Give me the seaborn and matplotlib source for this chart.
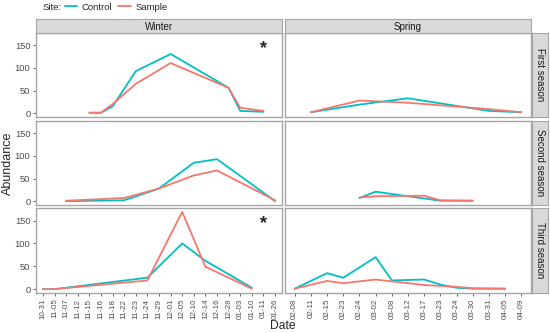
import pandas as pd
import numpy as np
import matplotlib
matplotlib.use("Agg")
import matplotlib.pyplot as plt
import seaborn as sns
from matplotlib.lines import Line2D

# tick labels for each column (discrete dates)
winter_dates = ['10-31', '11-05', '11-07', '11-12', '11-15', '11-16', '11-18', '11-22',
                '11-23', '11-24', '11-29', '12-01', '12-05', '12-10', '12-14', '12-16',
                '12-28', '01-03', '01-10', '01-11', '01-26']
spring_dates = ['02-08', '02-11', '02-15', '02-23', '02-24', '03-02', '03-08', '03-12',
                '03-17', '03-23', '03-24', '03-30', '03-31', '04-05', '04-09']

seasons = ['First season', 'Second season', 'Third season']
periods = ['Winter', 'Spring']

# First season
s1_winter_dates = ['11-15', '11-16', '11-18', '11-23', '12-01', '12-28', '01-03', '01-11']
s1_winter_control = [1, 1, 15, 93, 131, 56, 5, 3]
s1_winter_sample = [1, 1, 20, 65, 111, 56, 12, 5]
s1_spring_dates = ['02-11', '02-24', '03-12', '03-31', '04-09']
s1_spring_control = [2, 19, 33, 5, 2]
s1_spring_sample = [2, 28, 23, 9, 2]

# Second season
s2_winter_dates = ['11-07', '11-22', '11-29', '12-10', '12-16', '01-26']
s2_winter_control = [0, 2, 28, 85, 93, 0]
s2_winter_sample = [1, 7, 28, 57, 68, 2]
s2_spring_dates = ['02-24', '03-02', '03-17', '03-23', '03-30']
s2_spring_control = [7, 21, 6, 1, 1]
s2_spring_sample = [8, 11, 12, 2, 1]

# Third season
s3_winter_dates = ['10-31', '11-05', '11-24', '12-05', '12-14', '01-10']
s3_winter_control = [0, 0, 25, 100, 62, 3]
s3_winter_sample = [0, 0, 19, 169, 49, 1]
s3_spring_dates = ['02-08', '02-15', '02-23', '03-02', '03-08', '03-17', '03-23', '03-24', '03-30', '04-05']
s3_spring_control = [1, 35, 25, 70, 19, 21, 10, 3, 1, 1]
s3_spring_sample = [1, 18, 13, 21, 17, 9, 7, 5, 2, 1]

series = [
    ('First season', 'Winter', s1_winter_dates, s1_winter_control, s1_winter_sample),
    ('First season', 'Spring', s1_spring_dates, s1_spring_control, s1_spring_sample),
    ('Second season', 'Winter', s2_winter_dates, s2_winter_control, s2_winter_sample),
    ('Second season', 'Spring', s2_spring_dates, s2_spring_control, s2_spring_sample),
    ('Third season', 'Winter', s3_winter_dates, s3_winter_control, s3_winter_sample),
    ('Third season', 'Spring', s3_spring_dates, s3_spring_control, s3_spring_sample),
]

col_dates = {'Winter': winter_dates, 'Spring': spring_dates}

rows = []
for season, period, dates, ctrl, samp in series:
    for site, vals in (('Control', ctrl), ('Sample', samp)):
        for d, v in zip(dates, vals):
            rows.append({'Season': season, 'Period': period, 'Date': d,
                         'pos': col_dates[period].index(d), 'Site': site, 'Abundance': v})
df = pd.DataFrame(rows)

palette = {'Control': '#00BFC4', 'Sample': '#F8766D'}
border = '#A6A6A6'
tickcol = '#4D4D4D'

sns.set_style('white')
plt.rcParams['font.family'] = ['Liberation Sans', 'DejaVu Sans']

W, H = 550, 333
fig = plt.figure(figsize=(5.5, 3.33), dpi=100)

col_x = {'Winter': (36, 246), 'Spring': (285, 246)}
row_y = {'First season': (33, 117), 'Second season': (121, 205), 'Third season': (208, 293)}

ymax = df['Abundance'].max()
ylim = (-0.05 * ymax, 1.05 * ymax)

for season in seasons:
    for period in periods:
        x0, w = col_x[period]
        y0, y1 = row_y[season]
        ax = fig.add_axes([x0 / W, 1 - y1 / H, w / W, (y1 - y0) / H])
        sub = df[(df['Season'] == season) & (df['Period'] == period)]
        sns.lineplot(data=sub, x='pos', y='Abundance', hue='Site', hue_order=['Control', 'Sample'],
                     palette=palette, ax=ax, legend=False, linewidth=1.3, estimator=None, sort=False)
        n = len(col_dates[period])
        ax.set_xlim(-0.6, n - 1 + 0.6)
        ax.set_ylim(*ylim)
        ax.set_xlabel('')
        ax.set_ylabel('')
        for sp in ax.spines.values():
            sp.set_color(border)
            sp.set_linewidth(1.0)
        ax.set_xticks(range(n))
        if season == 'Third season':
            ax.set_xticklabels(col_dates[period], rotation=90, fontsize=5.8, color=tickcol)
            ax.tick_params(axis='x', length=2.5, width=0.6, color=tickcol, pad=1.5, bottom=True)
        else:
            ax.set_xticklabels([])
            ax.tick_params(axis='x', length=0, bottom=False)
        ax.set_yticks([0, 50, 100, 150])
        if period == 'Winter':
            ax.set_yticklabels(['0', '50', '100', '150'], fontsize=6.7, color=tickcol)
            ax.tick_params(axis='y', length=2.5, width=0.6, color=tickcol, pad=1.5, left=True)
        else:
            ax.set_yticklabels([])
            ax.tick_params(axis='y', length=0, left=False)
        if period == 'Winter' and season in ('First season', 'Third season'):
            ax.text(19, 143, '*', fontsize=13, fontweight='bold', ha='center', va='center')

        # top strips
        if season == 'First season':
            sax = fig.add_axes([x0 / W, 1 - 33 / H, w / W, 14 / H])
            sax.set_facecolor('#D9D9D9')
            sax.set_xticks([])
            sax.set_yticks([])
            for sp in sax.spines.values():
                sp.set_color(border)
            sax.text(0.5, 0.45, period, ha='center', va='center', fontsize=7, color='#1A1A1A',
                     transform=sax.transAxes)
        # right strips
        if period == 'Spring':
            rax = fig.add_axes([532 / W, 1 - y1 / H, 16 / W, (y1 - y0) / H])
            rax.set_facecolor('#D9D9D9')
            rax.set_xticks([])
            rax.set_yticks([])
            for sp in rax.spines.values():
                sp.set_color(border)
            rax.text(0.5, 0.5, season, ha='center', va='center', fontsize=7, color='#1A1A1A',
                     rotation=-90, transform=rax.transAxes)

fig.text(8 / W, 1 - 163 / H, 'Abundance', rotation=90, ha='center', va='center', fontsize=9)
fig.text(283 / W, 1 - 326 / H, 'Date', ha='center', va='center', fontsize=8.7)

# legend on top
fig.text(43 / W, 1 - 7 / H, 'Site:', ha='left', va='center', fontsize=6.8)
handles = [Line2D([], [], color=palette['Control'], lw=1.3),
           Line2D([], [], color=palette['Sample'], lw=1.3)]
fig.legend(handles, ['Control', 'Sample'], loc='center left', bbox_to_anchor=(65 / W, 1 - 7 / H),
           ncol=2, frameon=False, fontsize=6.8, handlelength=1.3, handletextpad=0.5,
           columnspacing=0.6, borderaxespad=0, borderpad=0)

plt.savefig('out.png', dpi=100)
